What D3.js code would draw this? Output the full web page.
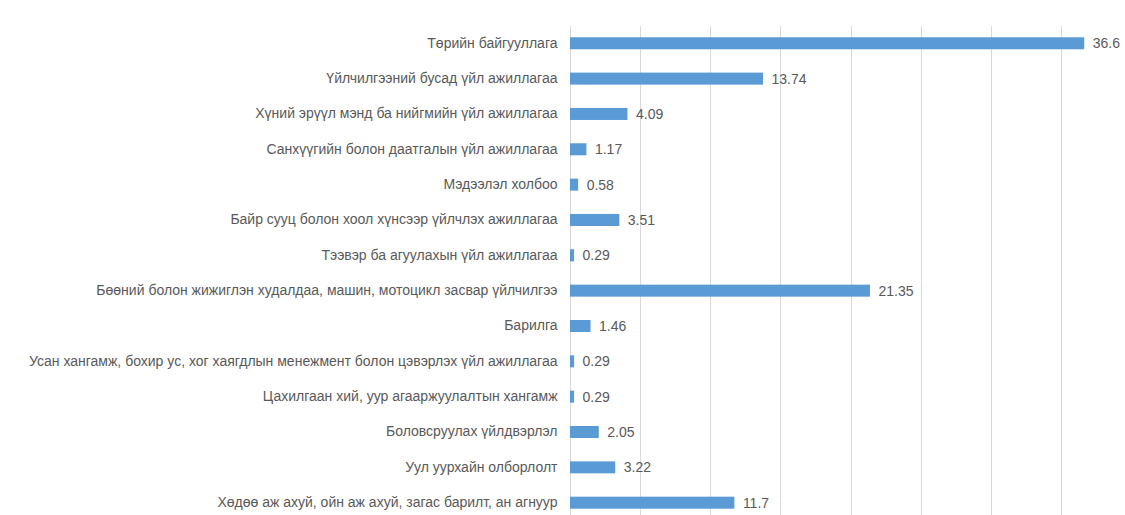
<!DOCTYPE html>
<html><head><meta charset="utf-8">
<script src="https://cdn.jsdelivr.net/npm/d3@7"></script>
<style>
body{margin:0;background:#fff;}
svg{display:block;}
text{font-family:"Liberation Sans Narrow","Liberation Sans",Arial,sans-serif;}
</style></head>
<body><svg id="chart" width="1125" height="515"></svg>
<script>
const categories = [
  "Төрийн байгууллага",
  "Үйлчилгээний бусад үйл ажиллагаа",
  "Хүний эрүүл мэнд ба нийгмийн үйл ажиллагаа",
  "Санхүүгийн болон даатгалын үйл ажиллагаа",
  "Мэдээлэл холбоо",
  "Байр сууц болон хоол хүнсээр үйлчлэх ажиллагаа",
  "Тээвэр ба агуулахын үйл ажиллагаа",
  "Бөөний болон жижиглэн худалдаа, машин, мотоцикл засвар үйлчилгээ",
  "Барилга",
  "Усан хангамж, бохир ус, хог хаягдлын менежмент болон цэвэрлэх үйл ажиллагаа",
  "Цахилгаан хий, уур агааржуулалтын хангамж",
  "Боловсруулах үйлдвэрлэл",
  "Уул уурхайн олборлолт",
  "Хөдөө аж ахуй, ойн аж ахуй, загас барилт, ан агнуур"
];
const values = [36.6, 13.74, 4.09, 1.17, 0.58, 3.51, 0.29, 21.35, 1.46, 0.29, 0.29, 2.05, 3.22, 11.7];
const valueLabels = ["36.6","13.74","4.09","1.17","0.58","3.51","0.29","21.35","1.46","0.29","0.29","2.05","3.22","11.7"];
const xTicks = [0,5,10,15,20,25,30,35,40];

const svg = d3.select("#chart");
const x = d3.scaleLinear().domain([0,40]).range([569.5, 1131.5]);
const y = d3.scaleBand().domain(categories).range([25.6, 25.6 + 35.34*14]).paddingInner(0.66).paddingOuter(0.33);

// gridlines
svg.append("g").selectAll("line").data(xTicks).join("line")
  .attr("x1", d => Math.round(x(d))+0.5).attr("x2", d => Math.round(x(d))+0.5)
  .attr("y1", 26).attr("y2", 530)
  .attr("stroke", "#d9d9d9").attr("stroke-width", 1);

// bars
svg.append("g").selectAll("rect").data(values).join("rect")
  .attr("x", x(0)+0.5)
  .attr("y", (d,i) => y(categories[i]))
  .attr("width", d => x(d) - x(0))
  .attr("height", y.bandwidth())
  .attr("fill", "#5b9bd5");

// value labels
svg.append("g").selectAll("text").data(values).join("text")
  .attr("x", d => x(d) + 9)
  .attr("y", (d,i) => y(categories[i]) + y.bandwidth()/2)
  .attr("dy", "0.36em")
  .attr("font-size", 14)
  .attr("fill", "#595959")
  .text((d,i) => valueLabels[i]);

// category axis
const yAxis = d3.axisLeft(y).tickSize(0).tickPadding(12);
const gy = svg.append("g").attr("transform", `translate(${x(0)},0)`).call(yAxis);
gy.select(".domain").remove();
gy.selectAll("text").attr("font-size", 14).attr("fill", "#595959").attr("font-family", null);
</script></body></html>
